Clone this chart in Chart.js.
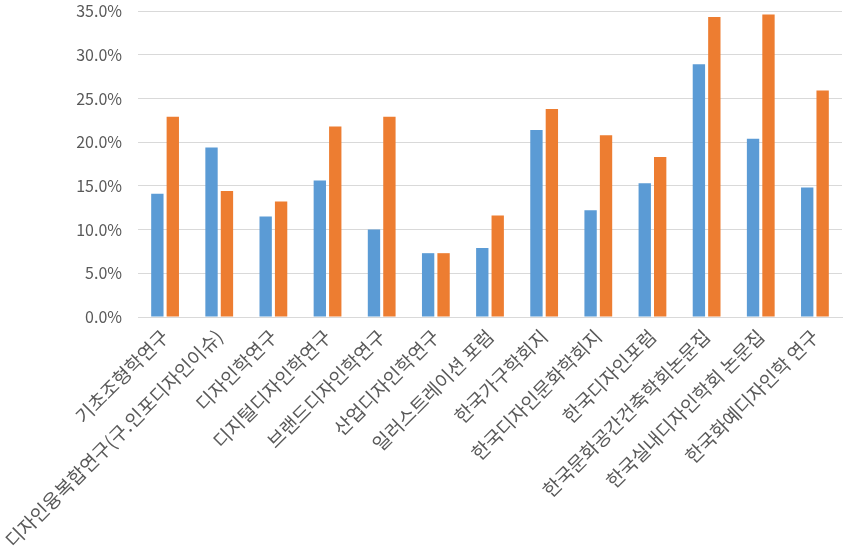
<!DOCTYPE html>
<html>
<head>
<meta charset="utf-8">
<script src="https://cdn.jsdelivr.net/npm/chart.js@4/dist/chart.umd.min.js"></script>
<style>
  html, body { margin: 0; padding: 0; background: #fff; }
  #wrap { width: 846px; height: 555px; }
</style>
</head>
<body>
<div id="wrap"><canvas id="chart"></canvas></div>
<script>
// journal names (x axis)
var journals = [
  "기초조형학연구",
  "디자인융복합연구(구.인포디자인이슈)",
  "디자인학연구",
  "디지털디자인학연구",
  "브랜드디자인학연구",
  "산업디자인학연구",
  "일러스트레이션 포럼",
  "한국가구학회지",
  "한국디자인문화학회지",
  "한국디자인포럼",
  "한국문화공간건축학회논문집",
  "한국실내디자인학회 논문집",
  "한국화예디자인학 연구"
];

// values in percent
var blueValues = [14.1, 19.4, 11.5, 15.6, 10.0, 7.3, 7.9, 21.4, 12.2, 15.3, 28.9, 20.4, 14.8];
var orangeValues = [22.9, 14.4, 13.2, 21.8, 22.9, 7.3, 11.6, 23.8, 20.8, 18.3, 34.3, 34.6, 25.9];

var yTicks = [0, 5, 10, 15, 20, 25, 30, 35];

var fontFam = "'Noto Sans CJK KR', 'Noto Sans', sans-serif";

new Chart(document.getElementById("chart"), {
  type: 'bar',
  data: {
    labels: journals,
    datasets: [{
        data: blueValues,
        backgroundColor: "#5b9bd5",
        categoryPercentage: 0.57,
        barPercentage: 0.8
      }, {
        data: orangeValues,
        backgroundColor: "#ed7d31",
        categoryPercentage: 0.57,
        barPercentage: 0.8
      }
    ]
  },
  options: {
    responsive: true,
    maintainAspectRatio: false,
    animation: false,
    layout: { padding: { top: 0, right: 4, left: 0, bottom: 0 } },
    plugins: {
      legend: { display: false },
      tooltip: { enabled: false }
    },
    scales: {
      x: {
        grid: { display: false },
        border: { display: true, color: "#d9d9d9", width: 1 },
        ticks: {
          color: "#595959",
          font: { family: fontFam, size: 19 },
          maxRotation: 45,
          minRotation: 45,
          autoSkip: false,
          padding: 0
        },
        afterFit: function(scale) {
          scale.height = 238;
          scale.paddingTop = 0;
        }
      },
      y: {
        min: 0,
        max: 35,
        afterBuildTicks: function(scale) {
          scale.ticks = yTicks.map(function(v) { return { value: v }; });
        },
        grid: { color: "#d9d9d9", lineWidth: 1, drawTicks: false },
        border: { display: false },
        ticks: {
          color: "#595959",
          font: { family: fontFam, size: 16 },
          padding: 16,
          callback: function(v) { return v.toFixed(1) + "%"; }
        },
        afterFit: function(scale) {
          scale.width = 138;
          scale.paddingTop = 11;
        }
      }
    }
  }
});
</script>
</body>
</html>
